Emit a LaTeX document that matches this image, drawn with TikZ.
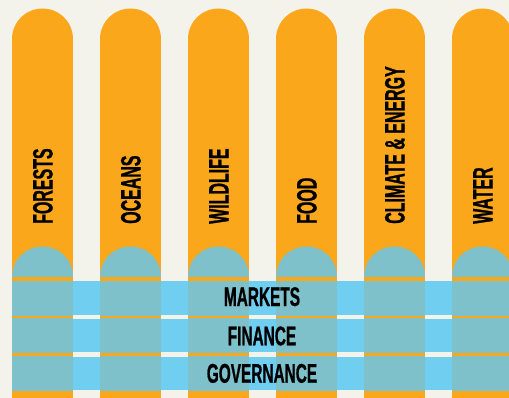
\documentclass[tikz,border=0pt]{standalone}
\usepackage{fontspec}
\usepackage{tikz}
\usetikzlibrary{positioning}
\newfontfamily\stripfont[FakeStretch=0.57,BoldFeatures={FakeBold=0.8}]{Liberation Sans}
\definecolor{paper}{RGB}{244,243,235}
\definecolor{pillar}{RGB}{250,167,28}
\definecolor{lagoon}{RGB}{126,193,202}
\definecolor{sky}{RGB}{112,206,240}

\begin{document}
\begin{tikzpicture}[
    x=1pt, y=-1pt,
    theme/.style={rotate=90, anchor=base west, inner sep=0pt, font=\stripfont\bfseries\fontsize{28}{28}\selectfont},
    layer/.style={anchor=base, inner sep=0pt, font=\stripfont\bfseries\fontsize{27}{27}\selectfont}
]
    \fill[paper] (0,0) rectangle (509,398);
    \useasboundingbox (0,0) rectangle (509,398);

    % orange pillars with round tops
    \foreach \i in {0,...,5} {
        \fill[pillar] (12+88*\i,39) rectangle (73+88*\i,405);
        \fill[pillar] (42.5+88*\i,39) circle[radius=30.5pt];
    }

    % blue bands running across
    \fill[sky] (12,281) rectangle (515,315.3);
    \fill[sky] (12,319.3) rectangle (515,352.3);
    \fill[sky] (12,356.7) rectangle (515,390.3);

    % teal where bands cross the pillars
    \foreach \i in {0,...,5} {
        \fill[lagoon] (12+88*\i,277) arc[start angle=180, end angle=0, radius=30.5pt];
        \fill[lagoon] (12+88*\i,281) rectangle (73+88*\i,315.7);
        \fill[lagoon] (12+88*\i,317.7) rectangle (73+88*\i,353);
        \fill[lagoon] (12+88*\i,355.7) rectangle (73+88*\i,391);
    }

    % pillar labels
    \foreach \name [count=\i from 0] in {FORESTS, OCEANS, WILDLIFE, FOOD, CLIMATE \& ENERGY, WATER}
        \node[theme] (theme\i) at (52.5+88*\i,224) {\name};

    % band labels
    \node[layer] (markets) at (262,306) {MARKETS};
    \node[layer] (finance) at (262,345.3) {FINANCE};
    \node[layer] (governance) at (262,382.7) {GOVERNANCE};
\end{tikzpicture}
\end{document}
